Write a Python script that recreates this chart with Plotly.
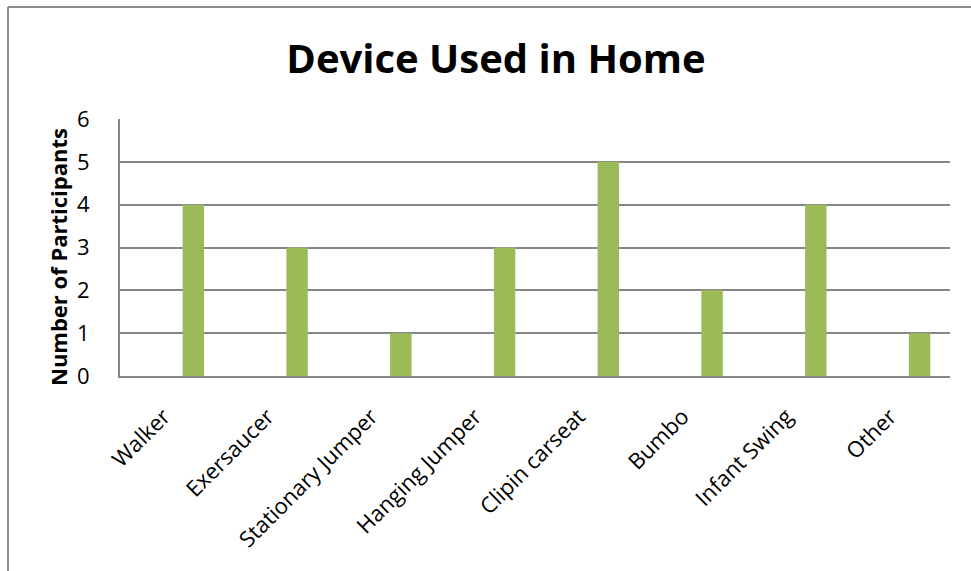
import plotly.graph_objects as go

categories = ["Walker", "Exersaucer", "Stationary Jumper", "Hanging Jumper",
              "Clipin carseat", "Bumbo", "Infant Swing", "Other"]
series1 = [None] * 8
series2 = [None] * 8
series3 = [4, 3, 1, 3, 5, 2, 4, 1]
y_ticks = [0, 1, 2, 3, 4, 5, 6]

W, H = 971, 571
ML, MR, MT, MB = 120, 21, 119, 195
PW, PH = W - ML - MR, H - MT - MB

def px_x(p):
    return (p - ML) / PW

def px_y(p):
    return (H - MB - p) / PH

fig = go.Figure()
for name, vals, col in [("Series1", series1, "#4F81BD"),
                        ("Series2", series2, "#C0504D"),
                        ("Series3", series3, "#9BBB59")]:
    fig.add_trace(go.Bar(x=categories, y=vals, name=name, marker_color=col,
                         marker_line_width=0, showlegend=False))

fig.update_layout(
    width=W, height=H,
    margin=dict(l=ML, r=MR, t=MT, b=MB),
    paper_bgcolor="white", plot_bgcolor="white",
    barmode="group", bargap=0.38, bargroupgap=0,
    font=dict(family="Open Sans", color="black"),
    title=dict(text="<b>Device Used in Home</b>", x=(496) / W, xanchor="center",
               y=1 - 59 / H, yanchor="middle",
               font=dict(size=40, family="Open Sans", color="black")),
    xaxis=dict(type="category", showgrid=False, showline=True, linecolor="#868686",
               linewidth=2, tickangle=-45, ticks="outside", ticklen=17,
               ticklabelshift=-8,
               tickcolor="rgba(0,0,0,0)", tickfont=dict(size=22, family="Open Sans")),
    yaxis=dict(range=[0, 6], tickvals=y_ticks, showgrid=True, gridcolor="#868686",
               gridwidth=2, showline=True, linecolor="#868686", linewidth=2,
               zeroline=False, ticks="", ticklabelstandoff=24,
               tickfont=dict(size=22, family="Open Sans")),
    annotations=[dict(text="<b>Number of Participants</b>", xref="paper", yref="paper",
                      x=px_x(58), y=px_y(257), xanchor="center", yanchor="middle",
                      textangle=-90, showarrow=False,
                      font=dict(size=22, family="Open Sans", color="black"))],
    shapes=[
        dict(type="line", xref="paper", yref="paper", x0=px_x(8), x1=px_x(W + 5),
             y0=px_y(7), y1=px_y(7), line=dict(color="#8c8c8c", width=2)),
        dict(type="line", xref="paper", yref="paper", x0=px_x(8), x1=px_x(8),
             y0=px_y(7), y1=px_y(H + 5), line=dict(color="#8c8c8c", width=2)),
    ],
)

fig.write_html("out.html")
